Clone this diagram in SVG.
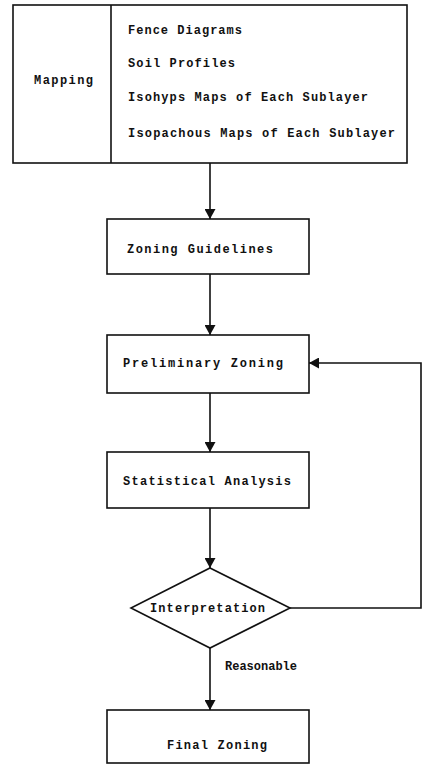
<svg xmlns="http://www.w3.org/2000/svg" width="424" height="765" viewBox="0 0 424 765">
<defs>
<marker id="ah" viewBox="0 0 10 11" refX="10" refY="5.5" markerWidth="10" markerHeight="11" markerUnits="userSpaceOnUse" orient="auto">
<path d="M0,0 L10,5.5 L0,11 Z" fill="#111"/>
</marker>
<style>
.box{fill:#fff;stroke:#111;stroke-width:1.6}
.t{font-family:"Liberation Mono","DejaVu Sans Mono",monospace;font-size:12px;font-weight:bold;fill:#111}
.c{fill:none;stroke:#111;stroke-width:1.6}
</style>
</defs>
<rect width="424" height="765" fill="#fff"/>
<g id="mapping">
<rect class="box" x="13" y="5" width="394" height="158"/>
<line class="c" x1="111" y1="5" x2="111" y2="163"/>
<text class="t" x="34" y="84" textLength="59" lengthAdjust="spacing">Mapping</text>
<text class="t" x="128" y="34" textLength="114" lengthAdjust="spacing">Fence Diagrams</text>
<text class="t" x="128" y="67" textLength="107" lengthAdjust="spacing">Soil Profiles</text>
<text class="t" x="128" y="101" textLength="240" lengthAdjust="spacing">Isohyps Maps of Each Sublayer</text>
<text class="t" x="128" y="137" textLength="267" lengthAdjust="spacing">Isopachous Maps of Each Sublayer</text>
</g>
<g id="zoning-guidelines">
<rect class="box" x="107" y="219" width="202" height="55"/>
<text class="t" x="127" y="253" textLength="146" lengthAdjust="spacing">Zoning Guidelines</text>
</g>
<g id="preliminary-zoning">
<rect class="box" x="107" y="335" width="202" height="58"/>
<text class="t" x="123" y="367" textLength="160" lengthAdjust="spacing">Preliminary Zoning</text>
</g>
<g id="statistical-analysis">
<rect class="box" x="107" y="452" width="202" height="56"/>
<text class="t" x="123" y="485" textLength="168" lengthAdjust="spacing">Statistical Analysis</text>
</g>
<g id="interpretation">
<polygon class="box" points="210,568 290,608 210,648 131,608"/>
<text class="t" x="150" y="612" textLength="115" lengthAdjust="spacing">Interpretation</text>
</g>
<g id="final-zoning">
<rect class="box" x="107" y="710" width="202" height="53"/>
<text class="t" x="167" y="749" textLength="100" lengthAdjust="spacing">Final Zoning</text>
</g>
<g id="connectors">
<line class="c" x1="210" y1="163" x2="210" y2="219" marker-end="url(#ah)"/>
<line class="c" x1="210" y1="274" x2="210" y2="335" marker-end="url(#ah)"/>
<line class="c" x1="210" y1="393" x2="210" y2="452" marker-end="url(#ah)"/>
<line class="c" x1="210" y1="508" x2="210" y2="568" marker-end="url(#ah)"/>
<line class="c" x1="210" y1="648" x2="210" y2="710" marker-end="url(#ah)"/>
<polyline class="c" points="290,608 421,608 421,363 309,363" marker-end="url(#ah)"/>
<text class="t" x="225" y="670" textLength="72" lengthAdjust="spacing">Reasonable</text>
</g>
</svg>
